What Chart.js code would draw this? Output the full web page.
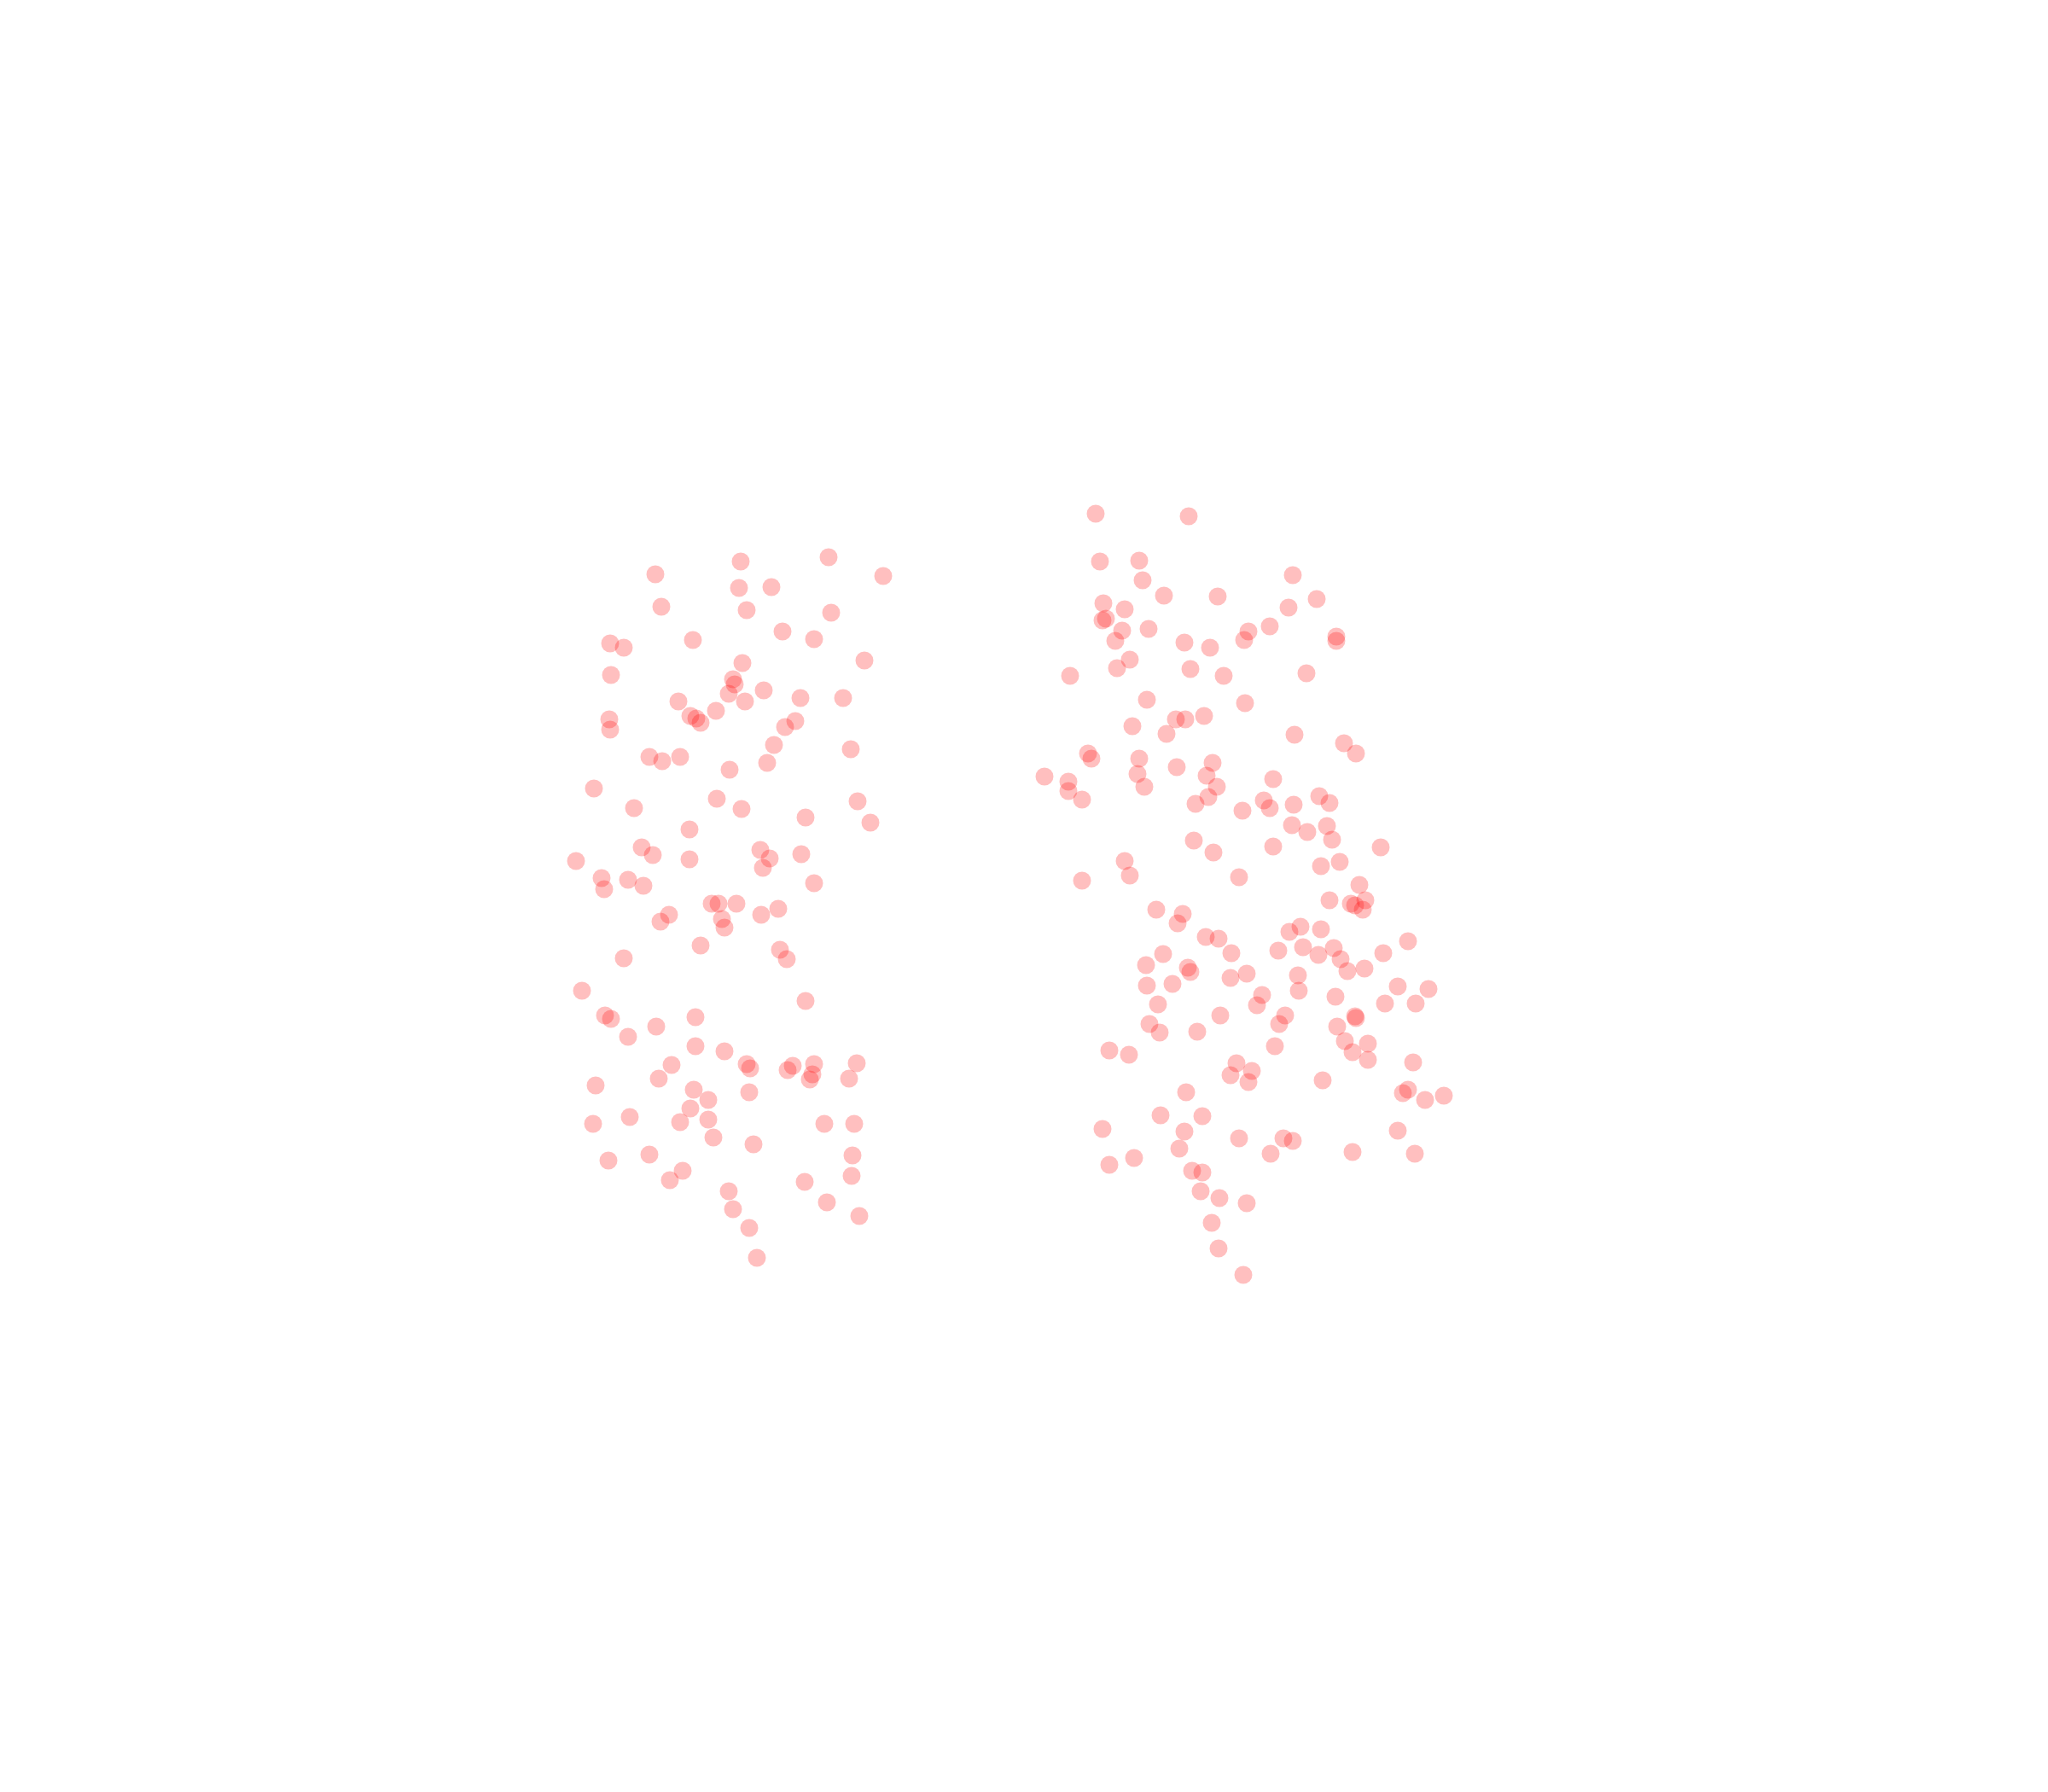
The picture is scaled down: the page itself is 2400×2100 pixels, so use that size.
<!DOCTYPE html>
<html>
<head>
<meta charset="utf-8">
<script src="https://cdn.jsdelivr.net/npm/chart.js@4.4.1/dist/chart.umd.min.js"></script>
<style>
html,body{margin:0;padding:0;background:#ffffff;}
#wrap{width:2400px;height:2100px;}
</style>
</head>
<body>
<div id="wrap"><canvas id="c" width="2400" height="2100"></canvas></div>
<script>
// Left cluster points [x, y]
const clusterA = [
[768,673],[868,658],[971,653],[1035,675],[866,689],[904,688],[775,711],[875,715],[974,718],[917,740],
[954,749],[715,754],[731,759],[812,750],[870,777],[1013,774],[716,791],[859,796],[861,802],[854,813],
[873,822],[895,809],[938,818],[988,818],[795,822],[809,839],[816,842],[821,847],[839,833],[714,843],
[715,855],[932,845],[920,852],[907,873],[997,878],[761,887],[776,892],[797,887],[899,894],[855,902],
[696,924],[840,936],[1005,939],
[743,947],[869,948],[944,958],[1020,964],[808,972],[752,993],[765,1002],[808,1007],[675,1009],[891,996],
[902,1006],[894,1017],[939,1001],[705,1029],[708,1042],[736,1031],[754,1038],[954,1035],[834,1059],[842,1059],
[863,1059],[846,1077],[849,1087],[892,1072],[912,1065],[784,1072],[774,1080],[821,1108],[914,1113],[922,1124],
[731,1123],[682,1161],[944,1173],[709,1190],[716,1194],[769,1203],[815,1192],[736,1215],
[815,1226],[849,1232],[787,1248],[772,1264],[875,1247],[879,1252],[929,1249],[923,1254],[954,1247],[952,1259],
[949,1265],[1004,1246],[995,1264],[698,1272],[813,1277],[830,1289],[878,1280],[809,1299],[797,1315],[830,1312],
[836,1333],[695,1317],[738,1309],[966,1317],[1001,1317],[883,1341],[713,1360],[761,1353],[999,1354],[800,1372],
[785,1383],[943,1385],[998,1378],[854,1396],[859,1417],[969,1409],[1007,1425],[878,1439],[887,1474]
];

// Right cluster points [x, y]
const clusterB = [
[1284,602],[1393,605],[1289,658],[1335,657],[1515,674],[1339,680],[1364,698],[1427,699],[1543,702],[1510,712],
[1293,707],[1318,714],[1296,725],[1292,727],[1315,739],[1346,737],[1307,751],[1488,734],[1463,740],[1458,750],
[1566,746],[1566,751],[1388,753],[1418,759],[1324,773],[1309,783],[1254,792],[1395,784],[1434,792],[1531,789],
[1344,820],[1459,824],[1378,843],[1389,843],[1411,839],[1327,851],[1367,860],[1517,861],[1575,871],[1589,883],
[1275,883],[1279,889],[1335,889],[1379,899],[1421,894],
[1224,910],[1252,916],[1252,927],[1268,937],[1333,907],[1341,922],[1414,909],[1426,922],[1416,934],[1401,942],
[1492,913],[1481,938],[1488,947],[1516,943],[1456,950],[1546,933],[1558,941],[1514,967],[1532,975],[1555,968],
[1561,984],[1399,985],[1422,999],[1492,992],[1618,993],[1548,1015],[1570,1010],[1318,1009],[1324,1026],[1268,1032],
[1452,1028],[1593,1037],[1558,1055],[1600,1055],[1583,1059],[1588,1061],[1597,1066],[1355,1066],[1386,1071],[1380,1082],
[1511,1092],[1524,1086],[1548,1089],[1413,1098],[1428,1100],[1650,1103],[1363,1118],[1443,1117],[1498,1114],[1527,1110],
[1563,1111],[1545,1119],[1621,1117],[1571,1124],[1579,1138],[1599,1135],[1343,1131],[1392,1134],[1395,1139],[1442,1146],
[1461,1141],[1521,1143],[1344,1155],[1374,1153],[1638,1156],[1674,1159],[1522,1161],[1479,1166],[1473,1178],[1565,1168],
[1623,1176],[1659,1176],[1357,1177],[1430,1190],[1506,1190],[1499,1200],[1588,1191],[1589,1193],[1347,1200],[1359,1210],
[1403,1209],[1567,1203],
[1300,1231],[1323,1236],[1494,1226],[1576,1220],[1603,1223],[1585,1233],[1603,1242],[1656,1245],[1449,1246],[1467,1255],
[1442,1260],[1463,1268],[1550,1266],[1650,1277],[1644,1281],[1670,1289],[1692,1284],[1390,1280],[1360,1307],[1409,1308],
[1292,1323],[1388,1326],[1452,1334],[1504,1334],[1515,1337],[1638,1325],[1382,1346],[1489,1352],[1585,1350],[1658,1352],
[1300,1365],[1329,1357],[1397,1372],[1409,1374],[1407,1396],[1429,1404],[1461,1410],[1420,1433],[1428,1463],[1457,1494]
];

const xRange = [0, 2400];
const yRange = [0, 2100];

function toPoints(arr){ return arr.map(p => ({x: p[0], y: p[1]})); }

const style = {
  backgroundColor: 'rgba(255,0,0,0.25)',
  borderWidth: 0,
  pointRadius: 10.5,
  pointHoverRadius: 10.5
};

new Chart(document.getElementById('c'), {
  type: 'scatter',
  data: {
    datasets: [
      Object.assign({label: 'A', data: toPoints(clusterA)}, style),
      Object.assign({label: 'B', data: toPoints(clusterB)}, style)
    ]
  },
  options: {
    responsive: false,
    animation: false,
    events: [],
    layout: {padding: 0, autoPadding: false},
    plugins: {legend: {display: false}, tooltip: {enabled: false}, title: {display: false}},
    scales: {
      x: {type: 'linear', min: xRange[0], max: xRange[1], display: false},
      y: {type: 'linear', min: yRange[0], max: yRange[1], reverse: true, display: false}
    }
  }
});
</script>
</body>
</html>
